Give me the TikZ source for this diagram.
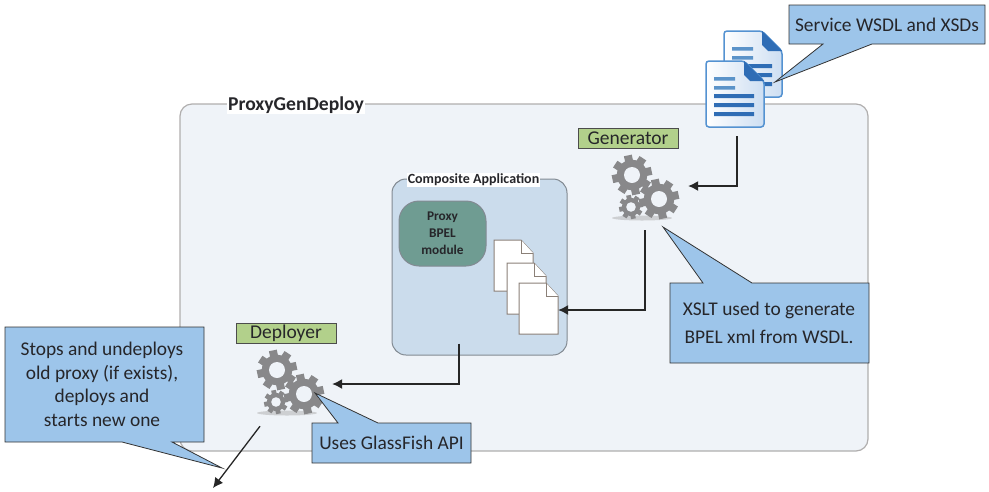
\documentclass[tikz,border=0pt]{standalone}
\usepackage{fontspec}
\usepackage{tikz}
\usetikzlibrary{arrows.meta}
\setmainfont{Carlito}
\definecolor{panelback}{RGB}{239,243,248}
\definecolor{panelline}{RGB}{176,174,174}
\definecolor{compback}{RGB}{203,220,236}
\definecolor{compline}{RGB}{130,138,146}
\definecolor{proxyback}{RGB}{111,156,146}
\definecolor{noteback}{RGB}{157,197,234}
\definecolor{labelback}{RGB}{178,208,139}
\definecolor{gearback}{RGB}{136,136,138}
\definecolor{gearshade}{RGB}{205,207,210}
\definecolor{docline}{RGB}{139,128,120}
\definecolor{iconline}{RGB}{84,146,209}
\definecolor{iconpage}{RGB}{205,222,242}
\definecolor{iconfold}{RGB}{47,109,181}
\definecolor{iconstripe}{RGB}{91,147,201}
\definecolor{textdark}{RGB}{38,38,42}
\newcommand{\gearwheel}[3]{
  \fill [gearback] (#1,#2) circle (0.76*#3);
  \foreach \a in {0,45,...,315}
    \fill [gearback,rotate around={\a+12:(#1,#2)}] (#1-0.2*#3,#2-0.7*#3) rectangle (#1+0.2*#3,#2-#3);
  \fill [panelback] (#1,#2) circle (0.4*#3);
}
\tikzset{
  note/.style={draw=black!80,fill=noteback,line width=0.8pt},
  notetext/.style={font=\fontsize{19.4}{23.5}\selectfont,text=textdark,align=center,inner sep=0pt},
  rolelabel/.style={draw=black!70,fill=labelback,line width=0.7pt,minimum width=100,minimum height=20,inner sep=0pt,font=\fontsize{19.5}{20}\selectfont,text=textdark},
  flow/.style={draw=black!85,line width=1.3pt,-{Latex[length=10pt,width=10pt]}},
  iconbox/.style={inner sep=0pt},
  gears/.pic={
    \fill [gearshade] (10,43) ellipse (30 and 2.5);
    \gearwheel{0}{0}{20}
    \gearwheel{27}{24}{20}
    \gearwheel{-1}{32}{12}
  },
  blankdoc/.pic={
    \draw [docline,fill=white,line width=1pt] (0,0) -- (27,0) -- (39,13) -- (39,51) -- (0,51) -- cycle;
    \draw [docline,fill=white,line width=1pt] (27,0) -- (27,13) -- (39,13);
  },
  bluedoc/.pic={
    \draw [iconline,left color=white,right color=iconpage,line width=1.5pt,rounded corners=3pt] (0,0) -- (38,0) -- (58,20) -- (58,66) -- (0,66) -- cycle;
    \fill [iconfold] (38,0) -- (58,20) -- (44,20) -- (38,14) -- cycle;
    \fill [iconstripe] (8,16) rectangle (29,19.5) (8,25) rectangle (29,28.5);
    \fill [iconfold] (8,33) rectangle (48,37) (8,42) rectangle (48,46) (8,51) rectangle (48,55);
  }
}
\begin{document}
\begin{tikzpicture}[x=1pt,y=-1pt]
\useasboundingbox (0,0) rectangle (989,491);
\node [draw=panelline,fill=panelback,line width=1.2pt,rounded corners=12pt,minimum width=688,minimum height=347,inner sep=0pt] (proxygen) at (524,277.5) {};
\node [fill=white,inner sep=1pt,font=\fontsize{19.6}{22}\selectfont\bfseries,text=textdark] (proxytitle) at (296,105) {ProxyGenDeploy};
\node [draw=compline,fill=compback,line width=1pt,rounded corners=14pt,minimum width=175,minimum height=176,inner sep=0pt] (composite) at (479.5,267) {};
\node [fill=white,inner sep=1pt,font=\fontsize{14}{16}\selectfont\bfseries,text=textdark] (comptitle) at (473.5,180) {Composite Application};
\node [draw=compline,fill=proxyback,line width=1pt,rounded corners=20pt,minimum width=87,minimum height=65,inner sep=0pt,align=center,font=\fontsize{13.3}{17}\selectfont\bfseries,text=textdark] (proxybpel) at (442.5,233.5) {Proxy\\BPEL\\module};

\pic at (494,240) {blankdoc};
\pic at (507,263) {blankdoc};
\pic at (519,283) {blankdoc};
\node [iconbox,minimum width=39,minimum height=51] (bpeldocs) at (538.5,310) {};

\pic at (724,31) {bluedoc};
\pic at (706,61) {bluedoc};
\node [iconbox,minimum width=62,minimum height=66] (wsdldocs) at (737,94) {};

\pic at (632,175) {gears};
\pic at (277,370) {gears};
\node [iconbox,minimum width=86,minimum height=80] (gengears) at (645,186) {};
\node [iconbox,minimum width=84,minimum height=84] (depgears) at (290,384) {};
\coordinate (undeployed) at (213,488);

\node [rolelabel] (generator) at (628,138) {Generator};
\node [rolelabel] (deployer) at (286,333) {Deployer};

\draw [flow,shorten <=9pt] (wsdldocs.south) |- (gengears.east);
\draw [flow,shorten <=4pt] (gengears.south) |- (bpeldocs.east);
\draw [flow] ([xshift=-20.5pt,yshift=12pt]composite.south) |- (depgears.east);
\draw [flow] ([xshift=-30pt]depgears.south) -- (undeployed);

\draw [note] (789,5) -- (985,5) -- (985,44) -- (872,44) -- (775,82) -- (823,44) -- (789,44) -- cycle;
\node [notetext] (wsdlnote) at (887,25) {Service WSDL and XSDs};
\draw [note] (670,283) -- (703,283) -- (663,227) -- (752,283) -- (869,283) -- (869,363) -- (670,363) -- cycle;
\node [notetext,font=\fontsize{19.4}{28}\selectfont] (xsltnote) at (769,323) {XSLT used to generate\\BPEL xml from WSDL.};
\draw [note] (5,327) -- (204,327) -- (204,442) -- (172,442) -- (222,468) -- (122,442) -- (5,442) -- cycle;
\node [notetext] (stopsnote) at (102,384.5) {Stops and undeploys\\old proxy (if exists),\\deploys and\\starts new one};
\draw [note] (312,423) -- (338,423) -- (315,393) -- (378,423) -- (471,423) -- (471,463) -- (312,463) -- cycle;
\node [notetext] (apinote) at (391.5,443) {Uses GlassFish API};
\end{tikzpicture}
\end{document}
